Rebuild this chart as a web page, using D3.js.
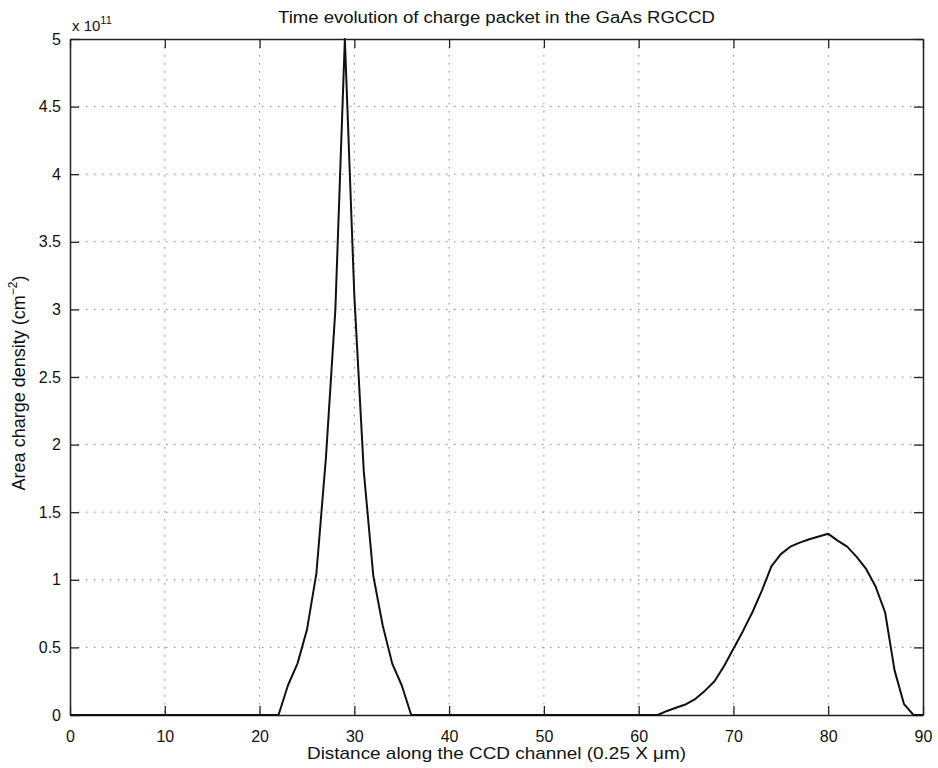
<!DOCTYPE html>
<html>
<head>
<meta charset="utf-8">
<script src="https://cdn.jsdelivr.net/npm/d3@7"></script>
<style>
  body { margin: 0; background: #fff; }
  text { font-family: "Liberation Sans", Arial, sans-serif; fill: #111; }
</style>
</head>
<body>
<div id="chart"></div>
<script>
// distance along channel (0.25 um units) and area charge density (x 1e11 cm^-2)
const positions = [0, 22, 23, 24, 25, 26, 27, 28, 29, 30, 31, 32, 33, 34, 35, 36,
    62, 63, 64, 65, 66, 67, 68, 69, 70, 71, 72, 73, 74, 75, 76, 77, 78, 79, 80,
    81, 82, 83, 84, 85, 86, 87, 88, 89, 90];
const density = [0, 0, 0.22, 0.38, 0.63, 1.05, 1.9, 3.0, 5.0, 3.1, 1.8, 1.03, 0.66, 0.38, 0.22, 0,
    0, 0.03, 0.055, 0.08, 0.12, 0.18, 0.25, 0.36, 0.49, 0.62, 0.76, 0.92, 1.1, 1.19, 1.245, 1.275, 1.3, 1.32, 1.34,
    1.29, 1.245, 1.17, 1.08, 0.95, 0.76, 0.33, 0.08, 0, 0];

const xTicks = [0, 10, 20, 30, 40, 50, 60, 70, 80, 90];
const yTicks = [0, 0.5, 1, 1.5, 2, 2.5, 3, 3.5, 4, 4.5, 5];

const margin = {top: 39, right: 15, bottom: 53, left: 70};
const width = 938 - margin.left - margin.right;
const height = 768 - margin.top - margin.bottom;

const svg = d3.select("#chart")
    .append("svg")
    .attr("width", 938)
    .attr("height", 768)
    .append("g")
    .attr("transform", "translate(" + margin.left + "," + margin.top + ")");

const xScale = d3.scaleLinear().domain([0, 90]).range([0, width]);
const yScale = d3.scaleLinear().domain([0, 5]).range([height, 0]);

// dotted grid
svg.append("g")
    .selectAll("line")
    .data(xTicks.slice(1, -1))
    .enter().append("line")
    .attr("x1", d => xScale(d)).attr("x2", d => xScale(d))
    .attr("y1", 0).attr("y2", height)
    .attr("stroke", "#888").attr("stroke-dasharray", "1.5,6.5");

svg.append("g")
    .selectAll("line")
    .data(yTicks.slice(1, -1))
    .enter().append("line")
    .attr("x1", 0).attr("x2", width)
    .attr("y1", d => yScale(d)).attr("y2", d => yScale(d))
    .attr("stroke", "#888").attr("stroke-dasharray", "1.5,6.5");

// axes, ticks pointing inward like matlab
const tickLen = 9;

const xAxis = svg.append("g")
    .attr("transform", "translate(0," + height + ")")
    .call(d3.axisBottom(xScale).tickValues(xTicks).tickSizeInner(-tickLen).tickSizeOuter(0).tickPadding(16));
const xTop = svg.append("g")
    .call(d3.axisTop(xScale).tickValues(xTicks).tickSizeInner(-tickLen).tickSizeOuter(0).tickFormat(""));
const yAxis = svg.append("g")
    .call(d3.axisLeft(yScale).tickValues(yTicks).tickSizeInner(-tickLen).tickSizeOuter(0).tickPadding(9).tickFormat(d3.format("")));
const yRight = svg.append("g")
    .attr("transform", "translate(" + width + ",0)")
    .call(d3.axisRight(yScale).tickValues(yTicks).tickSizeInner(-tickLen).tickSizeOuter(0).tickFormat(""));

[xAxis, xTop, yAxis, yRight].forEach(g => {
    g.select(".domain").attr("stroke", "#222").attr("stroke-width", 1.5);
    g.selectAll(".tick line").attr("stroke", "#222").attr("stroke-width", 1.3);
    g.selectAll(".tick text").attr("font-size", 16).attr("fill", "#111")
        .style("font-family", "'Liberation Sans', Arial, sans-serif");
});

// data line
const line = d3.line()
    .x((d, i) => xScale(positions[i]))
    .y(d => yScale(d));

svg.append("path")
    .datum(density)
    .attr("fill", "none")
    .attr("stroke", "#111")
    .attr("stroke-width", 2)
    .attr("stroke-linejoin", "round")
    .attr("d", line);

// exponent
const expo = svg.append("text")
    .attr("x", 2).attr("y", -8)
    .attr("font-size", 15);
expo.append("tspan").text("x 10");
expo.append("tspan").attr("dy", -7).attr("font-size", 11).text("11");

// title and labels
svg.append("text")
    .attr("x", width / 2).attr("y", -16)
    .attr("text-anchor", "middle")
    .attr("font-size", 16)
    .attr("textLength", 437)
    .attr("lengthAdjust", "spacingAndGlyphs")
    .text("Time evolution of charge packet in the GaAs RGCCD");

svg.append("text")
    .attr("x", width / 2).attr("y", height + 44)
    .attr("text-anchor", "middle")
    .attr("font-size", 17)
    .attr("textLength", 379)
    .attr("lengthAdjust", "spacingAndGlyphs")
    .text("Distance along the CCD channel (0.25 X \u03bcm)");

const ylab = svg.append("text")
    .attr("transform", "translate(-45," + (height / 2 + 6) + ") rotate(-90)")
    .attr("text-anchor", "middle")
    .attr("font-size", 18);
ylab.append("tspan").text("Area charge density (cm");
ylab.append("tspan").attr("dy", -8).attr("font-size", 12).text("\u22122");
ylab.append("tspan").attr("dy", 8).text(")");
</script>
</body>
</html>
